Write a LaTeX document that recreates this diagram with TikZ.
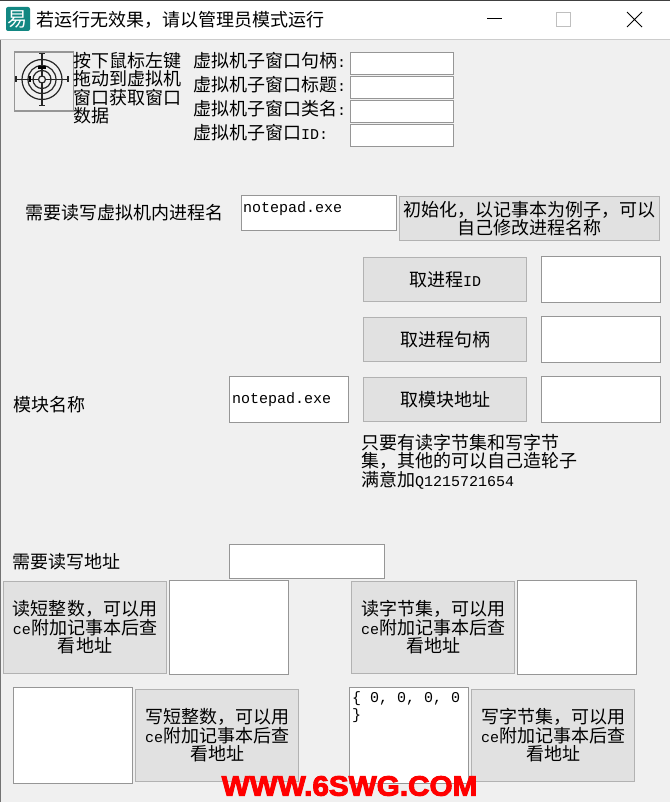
\documentclass[tikz,border=0pt]{standalone}
\usepackage{fontspec}
\usepackage{xcolor}
\setmainfont{Noto Sans CJK SC}
\newfontfamily\latinmono{Liberation Mono}
\newfontfamily\markfont[FakeBold=3.5,FakeStretch=1.06]{Liberation Sans Bold}
\definecolor{windowgray}{RGB}{240, 240, 240}
\definecolor{buttongray}{RGB}{225, 225, 225}
\definecolor{buttonedge}{RGB}{178, 178, 178}
\definecolor{editedge}{RGB}{150, 150, 150}
\definecolor{icongreen}{RGB}{18, 135, 130}
\newcommand{\monotext}[1]{{\fontsize{15}{17}\selectfont\latinmono #1}}
\usetikzlibrary{positioning, calc}

\begin{document}
\begin{tikzpicture}[
        x=1pt, y=-1pt,
        node distance=3pt,
        editbox/.style={rectangle, draw=editedge, fill=white, line width=1.5pt, inner sep=0pt, outer sep=0pt, minimum width=119pt, minimum height=46pt, anchor=north west, align=left, text=black},
        pushbtn/.style={rectangle, draw=buttonedge, fill=buttongray, line width=1.5pt, inner sep=0pt, outer sep=0pt, minimum width=163pt, minimum height=44pt, anchor=north west, align=center, font=\fontsize{18}{18.4}\selectfont, text=black, execute at begin node={\vspace*{2pt}}},
        caption/.style={inner sep=0pt, anchor=west, align=left, font=\fontsize{18}{18}\selectfont, text=black},
        iconline/.style={black!85, line width=1.2pt}
    ]
        \useasboundingbox (0,0) rectangle (670,802);
        % window
        \fill[windowgray] (0,0) rectangle (670,802);
        \fill[white] (0,0) rectangle (670,39);
        \draw[black!20, line width=1pt] (0,39.5) -- (670,39.5);
        \draw[black!75, line width=1pt] (0,0.5) -- (670,0.5);
        \draw[black!55, line width=1pt] (0.5,40) -- (0.5,802);
        % title bar
        \node[rectangle, fill=icongreen, rounded corners=2pt, minimum size=24pt, inner sep=0pt, text=white, font=\fontsize{20}{20}\selectfont] (appicon) at (18,19) {易};
        \node[caption] (title) at (36,20) {若运行无效果，请以管理员模式运行};
        \coordinate (minleft) at (487,19);
        \coordinate (minright) at (502,19);
        \draw[black, line width=1pt] (minleft) -- (minright);
        \draw[black!25, line width=1pt] (556.5,12.5) rectangle (570.5,26.5);
        \draw[black, line width=0.9pt] (627,12) -- (642,27) (642,12) -- (627,27);
        % target picker
        \node[rectangle, draw=editedge, line width=1.5pt, minimum width=59pt, minimum height=59pt, inner sep=0pt, anchor=north west] (picker) at (13.5,51.5) {};
        \begin{scope}[shift={(42,79.5)}]
            \draw[iconline] (0,0) circle (3.5pt) (0,0) circle (9pt) (0,0) circle (14pt) (0,0) circle (20pt);
            \draw[iconline] (-26,0) -- (-3.5,0) (3.5,0) -- (26,0) (0,-26) -- (0,-3.5) (0,3.5) -- (0,26);
            \draw[iconline] (-26,-3) -- (-26,3) (26,-3) -- (26,3) (-3,-26) -- (3,-26) (-3,26) -- (3,26);
            \draw[black, line width=2.5pt] (-12,-3) -- (-12,3) (-4,-12) -- (4,-12);
        \end{scope}
        \node[caption, font=\fontsize{18}{18.3}\selectfont, anchor=north west] (pickerhelp) at (73,52) {按下鼠标左键\\拖动到虚拟机\\窗口获取窗口\\数据};
        % window info
        \node[caption] (handlelbl) at (193,61) {虚拟机子窗口句柄\monotext{:}};
        \node[caption] (titlelbl) at (193,85) {虚拟机子窗口标题\monotext{:}};
        \node[caption] (classlbl) at (193,109) {虚拟机子窗口类名\monotext{:}};
        \node[caption] (idlbl) at (193,133) {虚拟机子窗口\monotext{ID:}};
        \node[editbox, minimum width=103pt, minimum height=22pt] (handlebox) at (350.5,52.5) {};
        \node[editbox, minimum width=103pt, minimum height=22pt] (titlebox) at (350.5,76.5) {};
        \node[editbox, minimum width=103pt, minimum height=22pt] (classbox) at (350.5,100.5) {};
        \node[editbox, minimum width=103pt, minimum height=22pt] (idbox) at (350.5,124.5) {};
        % process name
        \node[caption] (proclbl) at (25,213) {需要读写虚拟机内进程名};
        \node[editbox, minimum width=155pt, minimum height=35pt] (procbox) at (241.5,195.5) {};
        \node[anchor=west, inner sep=0pt] (proctext) at (243,209) {\monotext{notepad.exe}};
        \node[pushbtn, minimum width=260pt, minimum height=44pt] (initbtn) at (399.5,196.5) {初始化，以记事本为例子，可以\\自己修改进程名称};
        % process queries
        \node[pushbtn] (pidbtn) at (363.5,257.5) {取进程\monotext{ID}};
        \node[editbox, right=15pt of pidbtn.north east, anchor=north west, yshift=1pt] (pidbox) {};
        \node[pushbtn] (handlebtn) at (363.5,317.5) {取进程句柄};
        \node[editbox, right=15pt of handlebtn.north east, anchor=north west, yshift=1pt] (handleout) {};
        \node[pushbtn] (modbtn) at (363.5,377.5) {取模块地址};
        \node[editbox, right=15pt of modbtn.north east, anchor=north west, yshift=1pt] (modout) {};
        \node[caption] (modlbl) at (13,405) {模块名称};
        \node[editbox] (modbox) at (229.5,376.5) {};
        \node[anchor=west, inner sep=0pt] (modtext) at (232,400) {\monotext{notepad.exe}};
        \node[caption, font=\fontsize{18}{18.3}\selectfont, anchor=north west] (notelbl) at (361,434) {只要有读字节集和写字节\\集，其他的可以自己造轮子\\满意加\monotext{Q1215721654}};
        % read and write
        \node[caption] (addrlbl) at (12,562) {需要读写地址};
        \node[editbox, minimum width=155pt, minimum height=34pt] (addrbox) at (229.5,544.5) {};
        \node[pushbtn, minimum height=92pt] (readshort) at (3.5,581.5) {读短整数，可以用\\\monotext{ce}附加记事本后查\\看地址};
        \node[editbox, minimum height=94pt, right=of readshort.north east, anchor=north west, yshift=1pt] (shortout) {};
        \node[pushbtn, minimum height=92pt] (readbytes) at (351.5,581.5) {读字节集，可以用\\\monotext{ce}附加记事本后查\\看地址};
        \node[editbox, minimum height=94pt, right=of readbytes.north east, anchor=north west, yshift=1pt] (bytesout) {};
        \node[editbox, minimum height=96pt] (shortin) at (13.5,687.5) {};
        \node[pushbtn, minimum height=92pt, right=of shortin.north east, anchor=north west, yshift=-2pt] (writeshort) {写短整数，可以用\\\monotext{ce}附加记事本后查\\看地址};
        \node[editbox, minimum height=96pt] (bytesin) at (349.5,687.5) {};
        \node[anchor=north west, inner sep=0pt, align=left, font=\fontsize{15}{17}\selectfont\latinmono] (bytestext) at (352,691) {\{ 0, 0, 0, 0\\\}};
        \node[pushbtn, minimum height=92pt, right=of bytesin.north east, anchor=north west, yshift=-2pt] (writebytes) {写字节集，可以用\\\monotext{ce}附加记事本后查\\看地址};
        % watermark
        \node[inner sep=0pt, text=red, font=\fontsize{28}{28}\selectfont\markfont] (watermark) at (349.5,786) {WWW.6SWG.COM};
    \end{tikzpicture}
\end{document}
